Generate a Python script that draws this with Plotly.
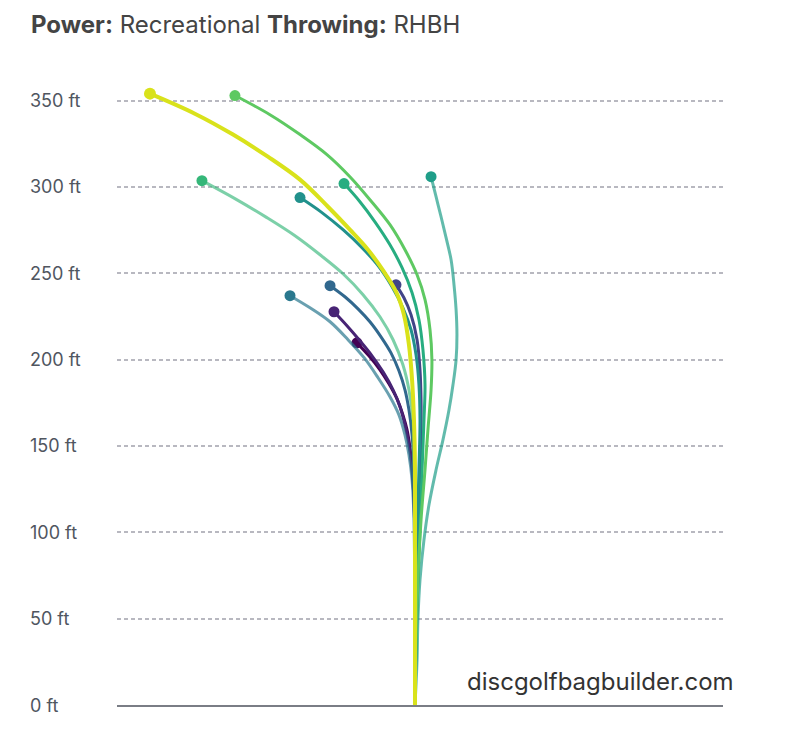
import plotly.graph_objects as go

# ---- data (lateral offset ft, distance ft) ----
tick_values = [0, 50, 100, 150, 200, 250, 300, 350]
tick_labels = ["0 ft", "50 ft", "100 ft", "150 ft", "200 ft", "250 ft", "300 ft", "350 ft"]

disc11_x = [0, 0, -0.6, -1.7, -2.9, -4.6, -7.0, -10.4, -15.1, -20.3, -26.7, -33.6]
disc11_y = [0, 89.8, 118.8, 137.3, 148.9, 159.3, 168.0, 177.3, 186.0, 194.1, 202.2, 209.7]

disc10_x = [0, 0, -0.6, -1.7, -3.5, -5.8, -8.7, -12.7, -18.5, -24.9, -31.9, -39.4, -46.9]
disc10_y = [0, 89.8, 118.8, 136.2, 150.6, 162.2, 172.7, 182.5, 192.9, 202.2, 210.9, 219.6, 227.7]

disc7_x = [0, 0.6, 1.7, 2.9, 3.5, 3.5, 2.9, 1.2, -2.3, -6.4, -11.0]
disc7_y = [0, 31.9, 72.4, 118.8, 153.5, 176.7, 194.1, 211.5, 226.0, 235.8, 243.3]

disc8_x = [0, 0, -0.6, -1.7, -3.5, -5.8, -9.3, -13.9, -19.7, -26.1, -33.0, -40.6, -49.2]
disc8_y = [0, 101.4, 136.2, 156.4, 170.9, 182.5, 193.5, 203.9, 213.2, 221.9, 229.4, 236.4, 242.8]

disc9_x = [0, -0.6, -1.7, -3.5, -5.8, -9.3, -14.5, -21.4, -29.5, -38.8, -49.2, -60.8, -72.4]
disc9_y = [0, 107.2, 130.4, 144.9, 156.4, 168.0, 178.5, 189.5, 201.1, 211.5, 221.9, 230.0, 237.0]

disc6_x = [0, 0.6, 1.2, 2.3, 2.9, 2.3, 0.6, -2.3, -7.0, -13.3, -21.4, -30.7, -41.7, -53.9, -66.6]
disc6_y = [0, 49.2, 95.6, 136.2, 165.1, 185.4, 202.8, 217.3, 230.0, 242.2, 254.4, 264.8, 275.2, 285.1, 293.8]

disc5_x = [0, 1.2, 1.7, 2.9, 5.2, 8.1, 12.2, 16.2, 19.7, 22.0, 23.8, 24.3, 23.8, 22.6, 20.9, 18.0, 15.1, 12.2, 9.3]
disc5_y = [0, 26.1, 49.2, 72.4, 95.6, 115.9, 136.2, 153.5, 170.9, 185.4, 199.9, 214.4, 228.9, 243.3, 257.8, 270.6, 282.7, 294.3, 305.9]

disc4_x = [0, 1.2, 2.9, 4.1, 5.2, 5.8, 4.6, 2.3, -1.7, -7.5, -14.5, -23.2, -31.9, -41.1]
disc4_y = [0, 60.8, 101.4, 136.2, 165.1, 185.4, 205.7, 223.1, 238.7, 253.2, 266.5, 279.8, 291.4, 301.9]

disc3_x = [0, 0, 0, -0.6, -1.2, -3.5, -7.0, -12.7, -20.3, -30.1, -41.7, -55.0, -69.5, -85.8, -104.3, -123.4]
disc3_y = [0, 60.8, 107.2, 142.0, 165.1, 182.5, 197.0, 211.5, 224.8, 237.6, 249.7, 260.7, 271.7, 282.2, 293.2, 303.6]

disc2_x = [0, 0.6, 1.7, 3.5, 5.8, 7.5, 9.3, 9.8, 8.7, 5.8, 1.2, -5.8, -14.5, -26.1, -37.7, -51.0, -66.6, -84.0, -104.3]
disc2_y = [0, 37.7, 72.4, 107.2, 136.2, 159.3, 182.5, 199.9, 217.3, 234.7, 249.1, 263.6, 278.1, 292.6, 305.9, 318.7, 330.3, 341.8, 352.9]

disc1_x = [0, 0, 0, 0, -0.6, -1.7, -3.5, -6.4, -11.0, -18.0, -27.2, -37.7, -50.4, -66.6, -85.2, -105.4, -127.5, -153.5]
disc1_y = [0, 49.2, 95.6, 136.2, 165.1, 188.3, 208.6, 226.0, 239.3, 250.9, 263.6, 275.2, 288.5, 304.2, 317.5, 330.3, 342.4, 354.0]

paths_x = [disc11_x, disc10_x, disc7_x, disc8_x, disc9_x, disc6_x, disc5_x, disc4_x, disc3_x, disc2_x, disc1_x]
paths_y = [disc11_y, disc10_y, disc7_y, disc8_y, disc9_y, disc6_y, disc5_y, disc4_y, disc3_y, disc2_y, disc1_y]
dot_colors = ["#440154", "#482475", "#414487", "#31688e", "#2a788e", "#21918c",
              "#1f9e89", "#27ad81", "#35b779", "#5ec962", "#d9e21b"]
line_alpha = [1, 1, 1, 1, 0.7, 1, 0.7, 1, 0.65, 1, 1]
line_widths = [3, 3, 3, 3, 3, 3, 3, 3, 3, 3, 4]
dot_sizes = [11, 11, 11, 11, 11, 11, 11, 11, 11, 11, 12]


def rgba(hexc, a):
    h = hexc.lstrip("#")
    r, g, b = int(h[0:2], 16), int(h[2:4], 16), int(h[4:6], 16)
    return f"rgba({r},{g},{b},{a})"


fig = go.Figure()
for px_, py_, c, a, w, s in zip(paths_x, paths_y, dot_colors, line_alpha, line_widths, dot_sizes):
    fig.add_trace(go.Scatter(x=px_, y=py_, mode="lines",
                             line=dict(color=rgba(c, a), width=w, shape="spline", smoothing=1.0),
                             hoverinfo="skip", showlegend=False))
    fig.add_trace(go.Scatter(x=[px_[-1]], y=[py_[-1]], mode="markers",
                             marker=dict(color=c, size=s, line=dict(width=0)),
                             hoverinfo="skip", showlegend=False, cliponaxis=False))

L, R, T, B = 117, 82, 66, 43
W, H = 805, 748
pw, ph = W - L - R, H - T - B

annotations = []
for v, t in zip(tick_values, tick_labels):
    annotations.append(dict(text=t, xref="paper", yref="y", x=(28 - L) / pw, y=v,
                            xanchor="left", yanchor="middle", showarrow=False,
                            font=dict(family="Inter, Liberation Sans, sans-serif", size=18, color="#50565f")))
annotations.append(dict(text="<b>Power:</b> Recreational <b>Throwing:</b> RHBH",
                        xref="paper", yref="paper", x=(29 - L) / pw, y=(H - B - 25) / ph,
                        xanchor="left", yanchor="middle", showarrow=False,
                        font=dict(family="Inter, Liberation Sans, sans-serif", size=24, color="#444444")))
annotations.append(dict(text="discgolfbagbuilder.com", xref="paper", yref="paper",
                        x=(736 - L) / pw, y=(H - B - 681) / ph, xanchor="right", yanchor="middle",
                        showarrow=False,
                        font=dict(family="Inter, Liberation Sans, sans-serif", size=24, color="#333333")))

fig.update_layout(
    width=W, height=H,
    margin=dict(l=L, r=R, t=T, b=B, pad=0),
    paper_bgcolor="white", plot_bgcolor="white",
    annotations=annotations,
    xaxis=dict(range=[-172.6, 178.4], showgrid=False, zeroline=False, showticklabels=False,
               ticks="", showline=True, linecolor="#7a7d85", linewidth=2, fixedrange=True),
    yaxis=dict(range=[0, 370], tickvals=tick_values[1:], showticklabels=False, ticks="",
               showgrid=True, gridcolor="#b8b8c0", gridwidth=1.5, griddash="4px,3px",
               zeroline=False, showline=False, fixedrange=True),
)

fig.write_html("out.html", config={"displayModeBar": False})
